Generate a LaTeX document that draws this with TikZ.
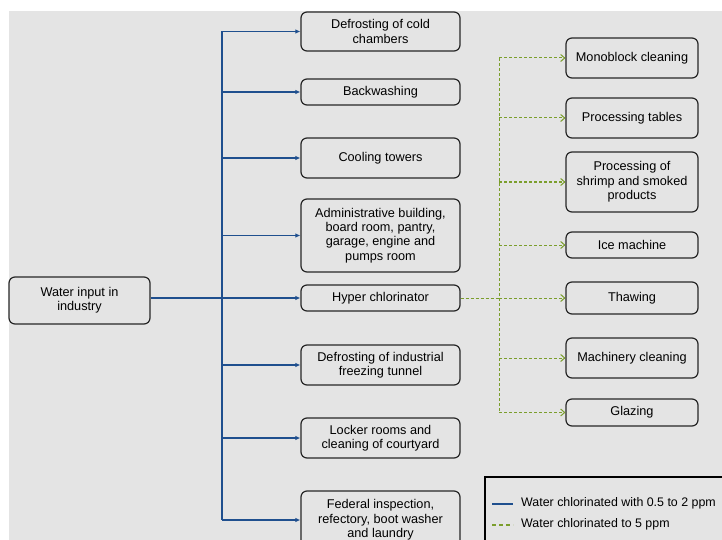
\documentclass[tikz,border=0pt]{standalone}
\usepackage{fontspec}
\setmainfont{Liberation Sans}
\usetikzlibrary{arrows.meta}
\definecolor{bggray}{HTML}{E4E4E4}
\definecolor{lineblue}{HTML}{1F4F8E}
\definecolor{linegreen}{HTML}{7B9E2C}
\tikzset{
  box/.style={draw=black!85, line width=1.2pt, rounded corners=6pt, fill=bggray,
    align=center, inner sep=0pt, font=\fontsize{12.7}{14.4}\selectfont},
  lbox/.style={box, minimum width=159pt},
  rbox/.style={box, minimum width=132pt},
  blueline/.style={draw=lineblue, line width=1.3pt},
  bluearrow/.style={blueline, -{Latex[length=5pt,width=4.5pt]}},
  greenline/.style={draw=linegreen, line width=1pt, dash pattern=on 3pt off 2pt},
  greenarrow/.style={greenline, -{Straight Barb[length=4pt,width=7pt,line width=1pt]}},
  legtext/.style={anchor=west, inner sep=0pt, font=\fontsize{12.4}{14.4}\selectfont}
}
\begin{document}
\begin{tikzpicture}[x=1pt,y=-1pt]
\useasboundingbox (0,0) rectangle (722,540);
\fill[white] (0,0) rectangle (722,540);
\fill[bggray] (9,11) rectangle (722,540);

% input
\node[box, minimum width=141pt, minimum height=47pt] (win) at (79.5,300.5) {Water input in\\industry};

% left column
\node[lbox, minimum height=39pt] (b1) at (380.5,31.5) {Defrosting of cold\\chambers};
\node[lbox, minimum height=26pt] (b2) at (380.5,92) {Backwashing};
\node[lbox, minimum height=40pt] (b3) at (380.5,158) {Cooling towers};
\node[lbox, minimum height=73pt] (b4) at (380.5,235.5) {Administrative building,\\board room, pantry,\\garage, engine and\\pumps room};
\node[lbox, minimum height=26pt] (b5) at (380.5,298) {Hyper chlorinator};
\node[lbox, minimum height=40pt] (b6) at (380.5,365) {Defrosting of industrial\\freezing tunnel};
\node[lbox, minimum height=40pt] (b7) at (380.5,438) {Locker rooms and\\cleaning of courtyard};
\node[lbox, minimum height=58pt] (b8) at (380.5,520) {Federal inspection,\\refectory, boot washer\\and laundry};

% right column
\node[rbox, minimum height=40pt] (r1) at (632,58) {Monoblock cleaning};
\node[rbox, minimum height=40pt] (r2) at (632,118) {Processing tables};
\node[rbox, minimum height=60pt] (r3) at (632,182) {Processing of\\shrimp and smoked\\products};
\node[rbox, minimum height=26pt] (r4) at (632,245) {Ice machine};
\node[rbox, minimum height=32pt] (r5) at (632,298) {Thawing};
\node[rbox, minimum height=40pt] (r6) at (632,358) {Machinery cleaning};
\node[rbox, minimum height=27pt] (r7) at (632,412.5) {Glazing};

% trunks
\coordinate (bt) at (222,0);
\coordinate (gt) at (499,0);

% blue connectors
\draw[blueline] (b1.west -| bt) -- (b8.west -| bt);
\foreach \n in {b1,b2,b3,b4,b6,b7,b8}{
  \draw[bluearrow] (\n.west -| bt) -- (\n.west);
}
\draw[bluearrow] (win.east |- b5.west) -- (b5.west);

% green connectors
\draw[greenline] (r1.west -| gt) -- (r7.west -| gt);
\draw[greenline] (b5.east) -- (b5.east -| gt);
\foreach \n in {r1,r2,r3,r4,r5,r6,r7}{
  \draw[greenarrow] (\n.west -| gt) -- (\n.west);
}

% legend
\draw[black, line width=1.5pt, fill=bggray] (485,477) rectangle (740,560);
\coordinate (l1a) at (492,504);
\coordinate (l1b) at (513,504);
\coordinate (l2a) at (492,525);
\coordinate (l2b) at (513,525);
\draw[blueline, line width=1.6pt] (l1a) -- (l1b);
\draw[draw=linegreen, line width=1.6pt, dash pattern=on 4pt off 3pt] (l2a) -- (l2b);
\node[legtext] (t1) at (521,503) {Water chlorinated with 0.5 to 2 ppm};
\node[legtext] (t2) at (521,524) {Water chlorinated to 5 ppm};
\end{tikzpicture}
\end{document}
